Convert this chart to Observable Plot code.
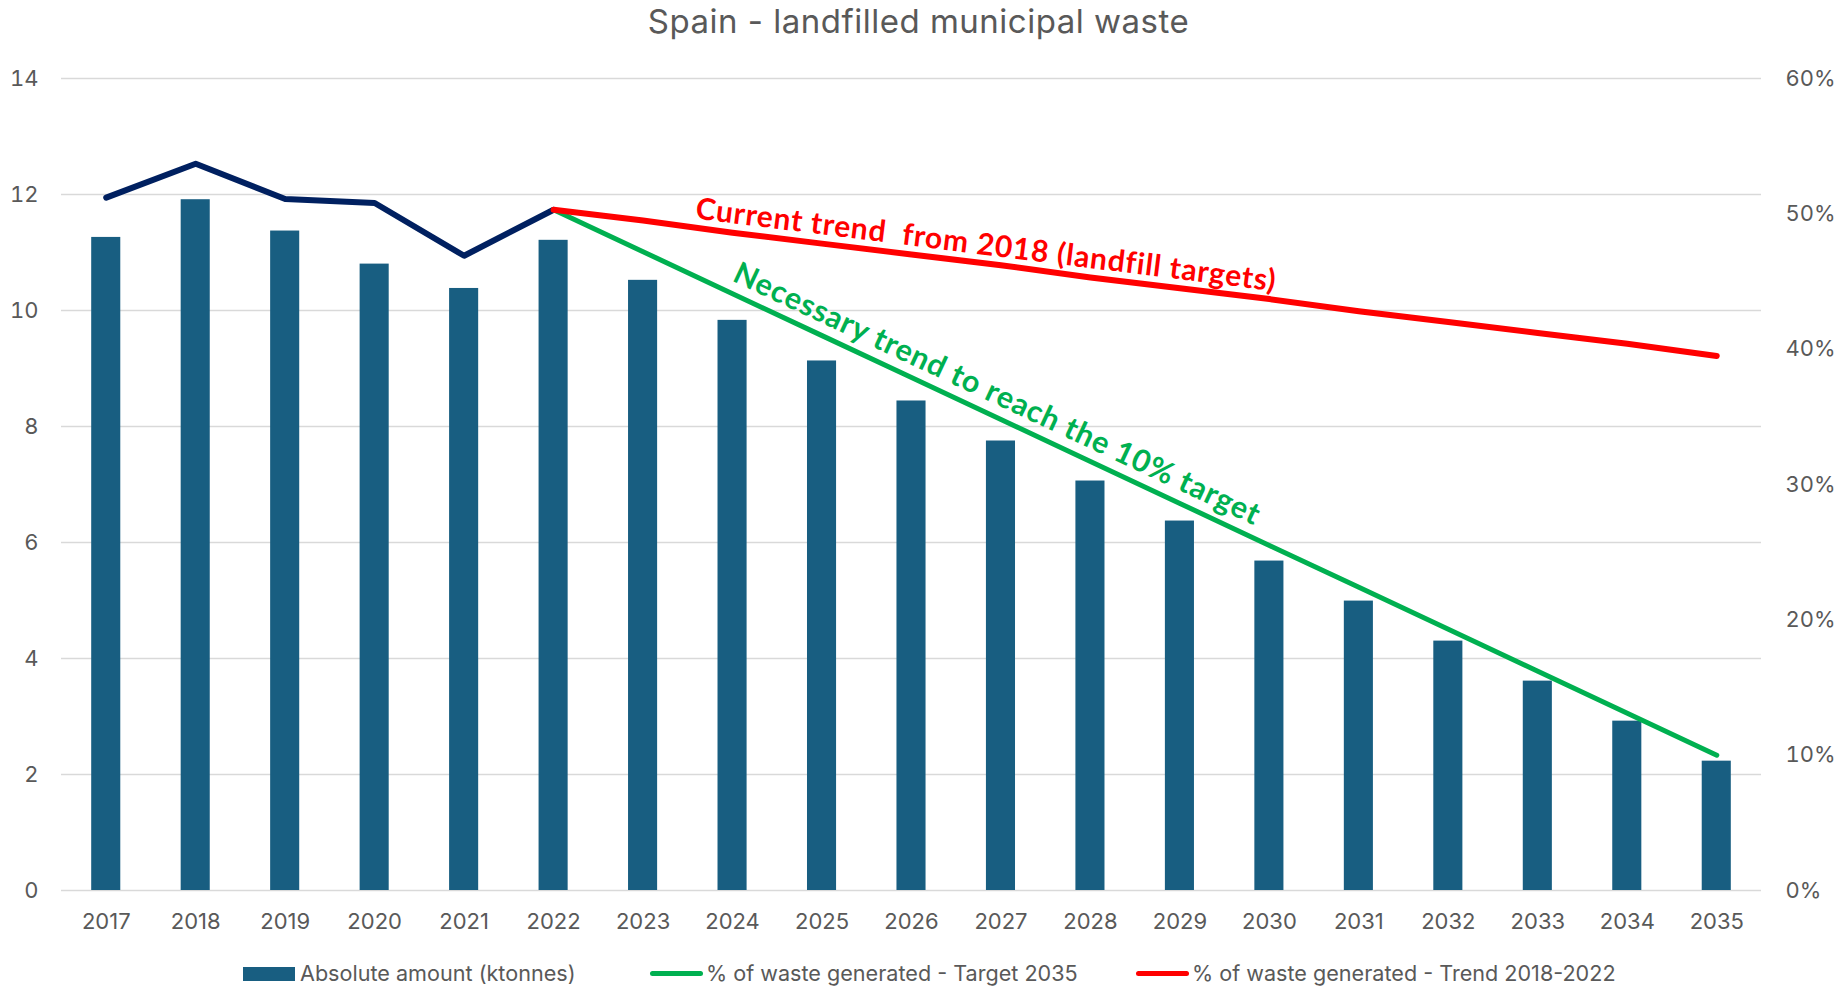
<!DOCTYPE html>
<html>
<head>
<meta charset="utf-8">
<script src="https://cdn.jsdelivr.net/npm/d3@7"></script>
<script src="https://cdn.jsdelivr.net/npm/@observablehq/plot@0.6"></script>
<style>
  html, body { margin: 0; padding: 0; background: #ffffff; }
  body { width: 1837px; height: 986px; overflow: hidden; font-family: Inter, "Liberation Sans", sans-serif; }
  #title { height: 42px; line-height: 42px; text-align: center; font-size: 33px; letter-spacing: 0.5px; color: #595959; white-space: pre; }
  #chart { height: 908px; }
  #legend { position: relative; height: 36px; font-size: 21.6px; color: #595959; }
  .item { position: absolute; top: 9px; height: 28px; line-height: 28px; white-space: nowrap; }
  .sw { position: absolute; }
  svg text { white-space: pre; }
  svg .note text { letter-spacing: 0.8px; }
</style>
</head>
<body>
<div id="title"></div>
<div id="chart"></div>
<div id="legend"></div>
<script>
// ---- data ----
const titleText = "Spain - landfilled municipal waste";
const years = ["2017","2018","2019","2020","2021","2022","2023","2024","2025","2026","2027","2028","2029","2030","2031","2032","2033","2034","2035"];
const amountKt = [11.26, 11.91, 11.37, 10.80, 10.38, 11.21, 10.52, 9.83, 9.13, 8.44, 7.75, 7.06, 6.37, 5.68, 4.99, 4.30, 3.61, 2.92, 2.23];
const historyYears = ["2017","2018","2019","2020","2021","2022"];
const historyPct = [51.2, 53.7, 51.1, 50.8, 46.9, 50.3];
const projYears = ["2022","2023","2024","2025","2026","2027","2028","2029","2030","2031","2032","2033","2034","2035"];
const targetPct = [50.3, 47.2, 44.1, 41.0, 37.9, 34.8, 31.7, 28.6, 25.5, 22.4, 19.3, 16.2, 13.1, 10.0];
const trendPct  = [50.3, 49.5, 48.6, 47.8, 47.0, 46.2, 45.3, 44.5, 43.7, 42.8, 42.0, 41.2, 40.4, 39.5];
const leftTicks = [0, 2, 4, 6, 8, 10, 12, 14];
const rightTicks = [0, 10, 20, 30, 40, 50, 60];
const legendLabels = ["Absolute amount (ktonnes)", "% of waste generated - Target 2035", "% of waste generated - Trend 2018-2022"];
const trendNote = "Current trend  from 2018 (landfill targets)";
const targetNote = "Necessary trend to reach the 10% target";
const noteYear = "2027";

// ---- build tables ----
const K = leftTicks[leftTicks.length - 1] / rightTicks[rightTicks.length - 1]; // secondary axis mapping
const bars = years.map((y, i) => ({year: y, value: amountKt[i]}));
const history = historyYears.map((y, i) => ({year: y, pct: historyPct[i]}));
const target = projYears.map((y, i) => ({year: y, pct: targetPct[i]}));
const trend = projYears.map((y, i) => ({year: y, pct: trendPct[i]}));
const trendAnchor = trend.filter(d => d.year === noteYear).map(d => ({...d, label: trendNote}));
const targetAnchor = target.filter(d => d.year === noteYear).map(d => ({...d, label: targetNote}));

const C = {bar: "#185E81", navy: "#002060", green: "#00B050", red: "#FF0000", text: "#595959", grid: "#D9D9D9"};

document.getElementById("title").textContent = titleText;

const chart = Plot.plot({
  width: 1837,
  height: 908,
  marginTop: 36,
  marginBottom: 60,
  marginLeft: 61,
  marginRight: 76,
  style: {color: C.text, fontFamily: "Inter, 'Liberation Sans', sans-serif", background: "#ffffff"},
  x: {type: "band", domain: years, paddingInner: 0.675, paddingOuter: 0.3375, round: false, axis: null},
  y: {domain: [0, 14], axis: null},
  marks: [
    Plot.gridY(leftTicks, {stroke: C.grid, strokeOpacity: 1, strokeWidth: 1.6}),
    Plot.axisY(leftTicks, {anchor: "left", tickSize: 0, tickPadding: 23, fontSize: 22, fill: C.text, label: null,
      tickFormat: v => String(v)}),
    Plot.axisY(rightTicks.map(p => p * K), {anchor: "right", tickSize: 0, tickPadding: 24, fontSize: 22, fill: C.text, label: null,
      tickFormat: v => Math.round(v / K) + "%"}),
    Plot.axisX(years, {anchor: "bottom", tickSize: 0, tickPadding: 23, fontSize: 22, fill: C.text, label: null}),
    Plot.barY(bars, {x: "year", y: "value", fill: C.bar}),
    Plot.line(history, {x: "year", y: d => d.pct * K, stroke: C.navy, strokeWidth: 6, strokeLinecap: "round", strokeLinejoin: "round"}),
    Plot.line(target, {x: "year", y: d => d.pct * K, stroke: C.green, strokeWidth: 5, strokeLinecap: "round", strokeLinejoin: "round"}),
    Plot.line(trend, {x: "year", y: d => d.pct * K, stroke: C.red, strokeWidth: 6, strokeLinecap: "round", strokeLinejoin: "round"}),
    Plot.text(trendAnchor, {x: "year", y: d => d.pct * K, text: "label", rotate: 7.15, dx: -15, dy: -20,
      fill: C.red, fontSize: 30, fontWeight: "bold", fontFamily: "Lato, 'Open Sans', sans-serif", className: "note"}),
    Plot.text(targetAnchor, {x: "year", y: d => d.pct * K, text: "label", rotate: 25.1, dx: -4, dy: -25.3,
      fill: C.green, fontSize: 30.5, fontWeight: "bold", fontFamily: "Lato, 'Open Sans', sans-serif", className: "note"})
  ]
});
document.getElementById("chart").appendChild(chart);

// ---- legend ----
const legend = document.getElementById("legend");
const items = [
  {label: legendLabels[0], kind: "bar", color: C.bar, left: 243},
  {label: legendLabels[1], kind: "line", color: C.green, left: 650},
  {label: legendLabels[2], kind: "line", color: C.red, left: 1136}
];
items.forEach(it => {
  const sw = document.createElement("div");
  sw.className = "sw";
  if (it.kind === "bar") {
    Object.assign(sw.style, {left: it.left + "px", top: "17px", width: "52px", height: "14px", background: it.color});
  } else {
    Object.assign(sw.style, {left: it.left + "px", top: "20.5px", width: "53px", height: "5px", background: it.color, borderRadius: "3px"});
  }
  legend.appendChild(sw);
  const t = document.createElement("div");
  t.className = "item";
  t.style.left = (it.left + (it.kind === "bar" ? 57 : 56)) + "px";
  t.textContent = it.label;
  legend.appendChild(t);
});
</script>
</body>
</html>
